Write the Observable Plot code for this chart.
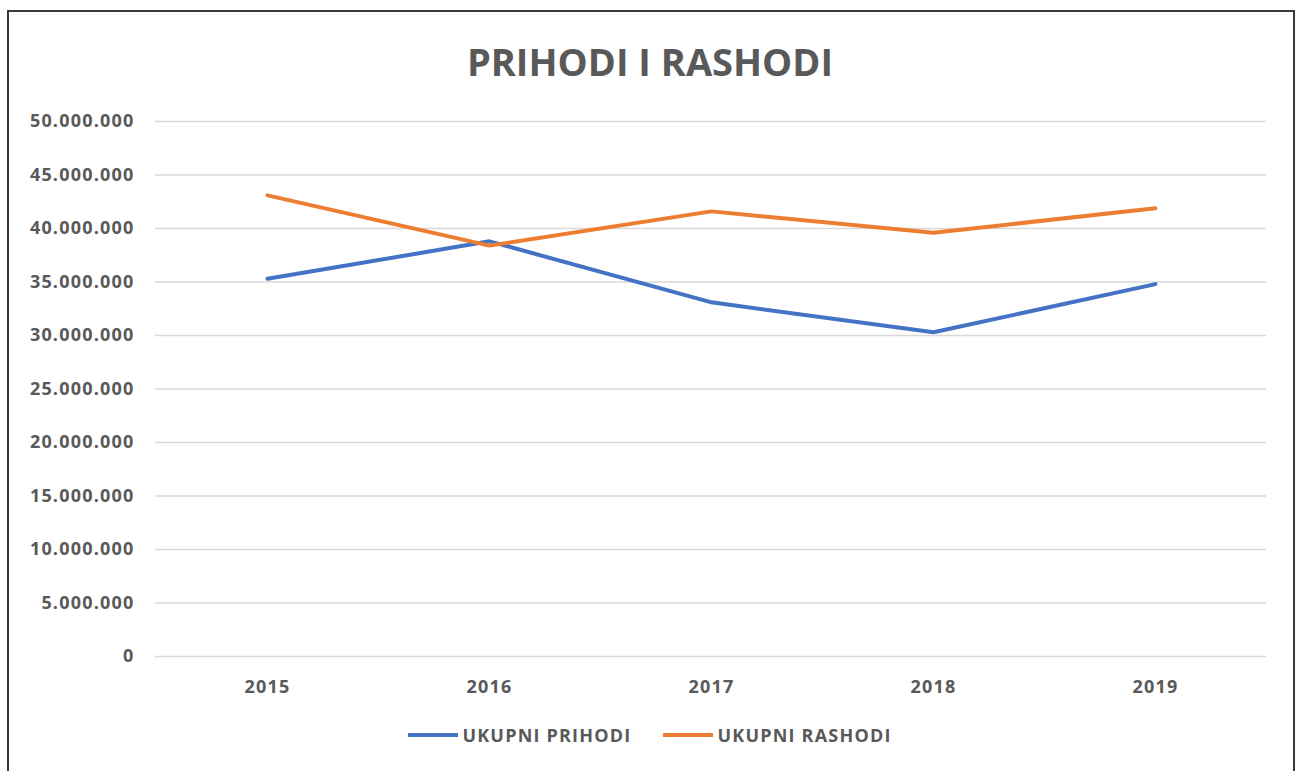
<!DOCTYPE html>
<html>
<head>
<meta charset="utf-8">
<script src="https://cdn.jsdelivr.net/npm/d3@7"></script>
<script src="https://cdn.jsdelivr.net/npm/@observablehq/plot@0.6"></script>
<style>
  html, body { margin: 0; padding: 0; background: #fff; }
  body { width: 1295px; height: 771px; overflow: hidden; position: relative; font-family: "Open Sans", sans-serif; }
  #frame { position: absolute; left: 7px; top: 10px; width: 1284px; height: 780px; border: 2px solid #3a3a3a; box-sizing: content-box; }
  #title { position: absolute; left: 0; width: 1282px; top: 23px; text-align: center; font-size: 38px; font-weight: bold; color: #595959; }
  #chart { position: absolute; left: 0; top: 0; }
  #chart svg text { letter-spacing: 1.2px; }
  #legend { position: absolute; top: 711px; left: 0; width: 1282px; display: flex; justify-content: center; gap: 32px; font-size: 18px; letter-spacing: 1.2px; font-weight: bold; color: #595959; }
  .item { display: flex; align-items: center; }
  .sw { width: 50px; height: 4px; margin-right: 4px; }
</style>
</head>
<body>
<div id="frame">
  <div id="chart"></div>
  <div id="title">PRIHODI I RASHODI</div>
  <div id="legend"></div>
</div>
<script>
const years = ["2015", "2016", "2017", "2018", "2019"];
const prihodi = [35300000, 38800000, 33100000, 30300000, 34800000];
const rashodi = [43100000, 38400000, 41600000, 39600000, 41900000];
const seriesNames = ["UKUPNI PRIHODI", "UKUPNI RASHODI"];
const seriesColors = ["#4472C4", "#ED7D31"];
const yTicks = [0, 5000000, 10000000, 15000000, 20000000, 25000000, 30000000, 35000000, 40000000, 45000000, 50000000];

const data = [];
years.forEach((y, i) => {
  data.push({year: y, value: prihodi[i], series: seriesNames[0]});
  data.push({year: y, value: rashodi[i], series: seriesNames[1]});
});

const fmt = v => v === 0 ? "0" : d3.format(",")(v).replace(/,/g, ".");

const chart = Plot.plot({
  width: 1282,
  height: 700,
  marginLeft: 146,
  marginRight: 25,
  marginTop: 109,
  marginBottom: 56,
  style: { fontFamily: '"Open Sans", sans-serif', background: "transparent" },
  x: { type: "point", domain: years, padding: 0.5, label: null },
  y: { domain: [0, 50000000], label: null },
  color: { domain: seriesNames, range: seriesColors },
  marks: [
    Plot.gridY(yTicks, { stroke: "#d9d9d9", strokeOpacity: 1, strokeWidth: 1.5 }),
    Plot.axisY(yTicks, { tickSize: 0, tickPadding: 21, tickFormat: fmt, fontSize: 18, fontWeight: "bold", fill: "#595959", label: null }),
    Plot.axisX({ tickSize: 0, tickPadding: 24, fontSize: 18, fontWeight: "bold", fill: "#595959", label: null }),
    Plot.line(data, { x: "year", y: "value", z: "series", stroke: "series", strokeWidth: 4, strokeLinejoin: "round", strokeLinecap: "round" })
  ]
});
document.getElementById("chart").appendChild(chart);

const legend = document.getElementById("legend");
seriesNames.forEach((n, i) => {
  const item = document.createElement("div");
  item.className = "item";
  const sw = document.createElement("div");
  sw.className = "sw";
  sw.style.background = seriesColors[i];
  const t = document.createElement("span");
  t.textContent = n;
  item.appendChild(sw);
  item.appendChild(t);
  legend.appendChild(item);
});
</script>
</body>
</html>
